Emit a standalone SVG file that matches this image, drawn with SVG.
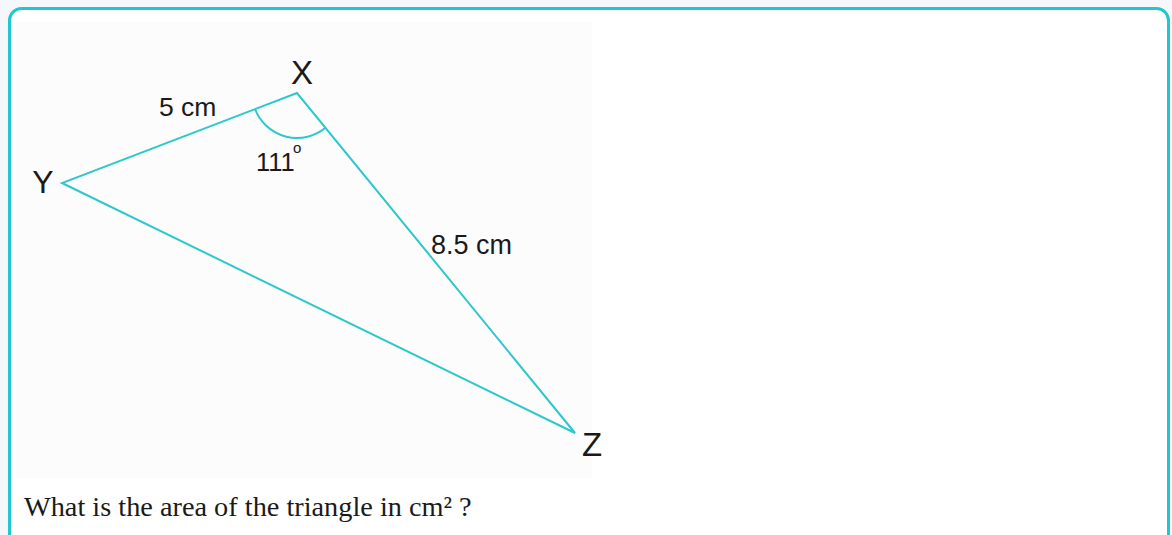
<svg xmlns="http://www.w3.org/2000/svg" width="1172" height="535" viewBox="0 0 1172 535">
<style>
.lbl{font-family:"Liberation Sans",Arial,sans-serif;fill:#1a1a1a}
.edge{stroke:#2ec8cc;stroke-width:2;fill:none;stroke-linejoin:miter}
</style>
<rect x="0" y="0" width="1172" height="535" fill="#f5f7fb"/>
<rect x="9.5" y="8.5" width="1159" height="540" rx="12" ry="12" fill="#ffffff" stroke="#1fc8cf" stroke-width="3"/>
<rect x="16" y="22" width="576" height="456" fill="#fcfcfc"/>
<g id="connectors">
<polygon class="edge" points="297,93 62,183 575,433"/>
<path class="edge" d="M255,109 A45,45 0 0 0 325.5,127.8"/>
</g>
<g id="X"><text class="lbl" x="302" y="84" font-size="33" text-anchor="middle">X</text></g>
<g id="Y"><text class="lbl" x="43" y="193" font-size="32" text-anchor="middle">Y</text></g>
<g id="Z"><text class="lbl" x="592" y="456" font-size="33" text-anchor="middle">Z</text></g>
<g id="label-xy"><text class="lbl" x="159" y="116" font-size="26.5">5 cm</text></g>
<g id="label-angle"><text class="lbl" x="256" y="171" font-size="25.5">111</text><text class="lbl" x="293" y="153" font-size="15">o</text></g>
<g id="label-xz"><text class="lbl" x="431" y="254" font-size="27">8.5 cm</text></g>
<g id="question"><text x="24" y="516" font-family="Liberation Serif,'Times New Roman',serif" font-size="28.3" fill="#1a1a1a">What is the area of the triangle in cm² ?</text></g>
</svg>
